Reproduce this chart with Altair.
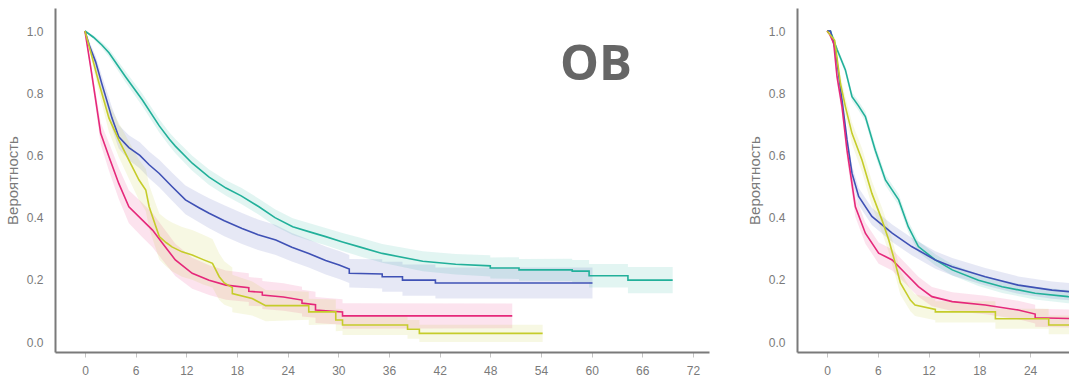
import altair as alt
import pandas as pd

# Kaplan–Meier estimates (months vs. survival probability) for four groups,
# each with a half-width of its confidence band at the same time points.
GROUPS = ["Группа 1", "Группа 2", "Группа 3", "Группа 4"]
COLORS = ["#22b09a", "#3f51b5", "#e5287a", "#c5cc2a"]

# ---- Panel 1: ОВ ----
os_t1 = [0, 1, 2, 2.84, 4.8, 6.8, 8.8, 10.0, 10.7, 12.7, 14.7, 16.7, 18.5, 20.6, 22.5, 24.6,
         26.5, 28.5, 30.5, 32.5, 35.2, 40, 43.9, 48.0, 48.0, 51.4, 51.4, 57.7, 57.7, 59.7,
         59.7, 64.3, 64.3, 69.6]
os_s1 = [1.0, 0.98, 0.955, 0.93, 0.853, 0.778, 0.695, 0.652, 0.63, 0.575, 0.53, 0.495, 0.47,
         0.435, 0.4, 0.371, 0.355, 0.339, 0.322, 0.306, 0.285, 0.26, 0.25, 0.245, 0.238, 0.238,
         0.232, 0.232, 0.228, 0.228, 0.213, 0.213, 0.199, 0.199]
os_h1 = [0, 0.006, 0.01, 0.013, 0.018, 0.02, 0.021, 0.022, 0.023, 0.024, 0.025, 0.025, 0.026,
         0.026, 0.027, 0.027, 0.028, 0.028, 0.029, 0.03, 0.03, 0.032, 0.033, 0.034, 0.034,
         0.035, 0.035, 0.036, 0.036, 0.036, 0.038, 0.038, 0.042, 0.042]

os_t2 = [0, 0.5, 1.27, 2, 2.45, 3.2, 4.0, 5.2, 6.5, 7.6, 8.8, 10.3, 11.9, 13.5, 14.7, 16.5,
         18.6, 20.5, 22.6, 24.5, 26.5, 28.5, 30.1, 31.3, 31.3, 35.2, 35.2, 37.6, 37.6, 41.5,
         41.5, 60.1]
os_s2 = [1.0, 0.955, 0.9, 0.83, 0.789, 0.72, 0.66, 0.625, 0.6, 0.57, 0.542, 0.5, 0.457, 0.432,
         0.414, 0.39, 0.365, 0.345, 0.328, 0.305, 0.285, 0.262, 0.248, 0.235, 0.221, 0.219,
         0.21, 0.21, 0.199, 0.199, 0.19, 0.19]
os_h2 = [0, 0.012, 0.02, 0.026, 0.03, 0.034, 0.038, 0.04, 0.042, 0.043, 0.044, 0.045, 0.046,
         0.047, 0.048, 0.05, 0.05, 0.049, 0.048, 0.046, 0.045, 0.045, 0.045, 0.045, 0.046,
         0.047, 0.048, 0.048, 0.05, 0.05, 0.05, 0.05]

os_t3 = [0, 0.67, 1.27, 1.86, 2.84, 4.0, 5.2, 6.8, 8.0, 9.2, 10.7, 12.7, 14.7, 16.7, 19.4,
         19.4, 21.0, 21.0, 23.5, 25.7, 25.7, 27.3, 27.3, 30.5, 30.5, 50.6]
os_s3 = [1.0, 0.885, 0.778, 0.671, 0.596, 0.51, 0.435, 0.392, 0.36, 0.317, 0.264, 0.221,
         0.199, 0.183, 0.175, 0.163, 0.16, 0.151, 0.145, 0.135, 0.125, 0.12, 0.103, 0.097,
         0.084, 0.084]
os_h3 = [0, 0.015, 0.025, 0.035, 0.045, 0.05, 0.053, 0.055, 0.055, 0.054, 0.052, 0.05, 0.048,
         0.047, 0.046, 0.046, 0.045, 0.045, 0.044, 0.043, 0.043, 0.042, 0.042, 0.041, 0.041,
         0.04]

os_t4 = [0, 0.8, 1.66, 2.84, 4.0, 5.2, 6.4, 7.2, 7.6, 8.4, 8.8, 9.6, 10.3, 11.5, 12.7, 14.0,
         15.1, 15.9, 16.5, 17.45, 17.45, 19.8, 21.4, 26.5, 26.5, 29.7, 29.7, 30.5, 30.5, 38.2,
         38.2, 39.6, 39.6, 54.2]
os_s4 = [1.0, 0.92, 0.832, 0.72, 0.65, 0.585, 0.521, 0.489, 0.435, 0.371, 0.339, 0.32, 0.306,
         0.29, 0.28, 0.265, 0.253, 0.21, 0.19, 0.175, 0.156, 0.14, 0.117, 0.117, 0.097, 0.097,
         0.071, 0.071, 0.055, 0.055, 0.041, 0.041, 0.028, 0.028]
os_h4 = [0, 0.015, 0.03, 0.045, 0.055, 0.06, 0.065, 0.068, 0.07, 0.072, 0.074, 0.076, 0.078,
         0.08, 0.08, 0.08, 0.078, 0.075, 0.07, 0.065, 0.06, 0.055, 0.05, 0.045, 0.042, 0.04,
         0.036, 0.035, 0.032, 0.032, 0.03, 0.03, 0.028, 0.028]

# ---- Panel 2 ----
pf_t1 = [0, 0.4, 1.2, 2.17, 2.95, 3.7, 4.53, 5.7, 6.9, 8.47, 9.6, 10.8, 12.8, 14.8, 17.9, 20.7,
         24.6, 28.5, 29.5]
pf_s1 = [1.0, 1.0, 0.94, 0.875, 0.789, 0.76, 0.725, 0.617, 0.521, 0.457, 0.371, 0.307, 0.264,
         0.232, 0.199, 0.178, 0.157, 0.146, 0.144]
pf_h1 = [0, 0, 0.008, 0.012, 0.014, 0.015, 0.016, 0.017, 0.017, 0.018, 0.018, 0.018, 0.018,
         0.018, 0.019, 0.02, 0.02, 0.021, 0.021]

pf_t2 = [0, 0.4, 0.99, 1.77, 2.36, 2.95, 3.74, 5.3, 7.7, 10.0, 12.8, 14.8, 18.7, 22.6, 26.6, 29.5]
pf_s2 = [1.0, 1.0, 0.939, 0.778, 0.65, 0.543, 0.468, 0.404, 0.35, 0.307, 0.264, 0.242, 0.21,
         0.183, 0.167, 0.16]
pf_h2 = [0, 0, 0.012, 0.018, 0.022, 0.025, 0.027, 0.028, 0.028, 0.028, 0.028, 0.028, 0.028,
         0.028, 0.028, 0.028]

pf_t3 = [0, 0.3, 0.79, 1.18, 1.77, 2.36, 3.35, 4.53, 6.1, 7.7, 9.25, 10.8, 12.4, 14.8, 18.7,
         22.6, 24.6, 24.6, 29.5]
pf_s3 = [1.0, 0.99, 0.961, 0.853, 0.757, 0.617, 0.435, 0.35, 0.286, 0.264, 0.221, 0.178, 0.146,
         0.13, 0.119, 0.103, 0.09, 0.078, 0.075]
pf_h3 = [0, 0.004, 0.012, 0.02, 0.025, 0.03, 0.033, 0.034, 0.034, 0.034, 0.033, 0.032, 0.031,
         0.03, 0.03, 0.03, 0.03, 0.029, 0.029]

pf_t4 = [0, 0.9, 1.58, 2.17, 2.95, 4.13, 5.3, 6.5, 7.3, 8.07, 8.67, 9.85, 10.4, 12.8, 12.8, 19.9,
         19.9, 26.2, 26.2, 29.5]
pf_s4 = [1.0, 0.97, 0.832, 0.757, 0.671, 0.585, 0.478, 0.392, 0.328, 0.253, 0.19, 0.135, 0.119,
         0.105, 0.097, 0.097, 0.075, 0.075, 0.055, 0.055]
pf_h4 = [0, 0.01, 0.025, 0.03, 0.035, 0.038, 0.04, 0.04, 0.04, 0.04, 0.038, 0.036, 0.035, 0.035,
         0.034, 0.034, 0.032, 0.032, 0.03, 0.03]

X_TICKS_1 = list(range(0, 73, 6))
X_TICKS_2 = list(range(0, 25, 6))
Y_TICKS = [0.0, 0.2, 0.4, 0.6, 0.8, 1.0]


def curves(series):
    rows = []
    for group, (t, s, h) in zip(GROUPS, series):
        for ti, si, hi in zip(t, s, h):
            rows.append({"group": group, "t": ti, "s": si,
                         "lo": max(si - hi, 0.0), "hi": min(si + hi, 1.0)})
    return pd.DataFrame(rows)


os_df = curves([(os_t1, os_s1, os_h1), (os_t2, os_s2, os_h2),
                (os_t3, os_s3, os_h3), (os_t4, os_s4, os_h4)])
pf_df = curves([(pf_t1, pf_s1, pf_h1), (pf_t2, pf_s2, pf_h2),
                (pf_t3, pf_s3, pf_h3), (pf_t4, pf_s4, pf_h4)])

AXIS_GREY = "#7a7a7a"
color = alt.Color("group:N", scale=alt.Scale(domain=GROUPS, range=COLORS), legend=None)


def panel(df, x_max, x_ticks, width, label=None):
    x = alt.X("t:Q", scale=alt.Scale(domain=[-3.55, x_max], nice=False, zero=False),
              axis=alt.Axis(values=x_ticks, grid=False, title=None, domainColor=AXIS_GREY,
                            domainWidth=2, tickColor="#c4c4c4", tickSize=5, tickWidth=1,
                            labelColor=AXIS_GREY, labelFont="Liberation Sans",
                            labelFontSize=12, labelPadding=8))
    y_scale = alt.Scale(domain=[-0.032, 1.074], nice=False, zero=False)
    y_axis = alt.Axis(values=Y_TICKS, format=".1f", grid=False, ticks=False,
                      domainColor=AXIS_GREY, domainWidth=2, labelColor=AXIS_GREY,
                      labelFont="Liberation Sans", labelFontSize=12, labelPadding=12,
                      title="Вероятность", titleFont="Liberation Sans", titleFontSize=15,
                      titleFontWeight="normal", titleColor=AXIS_GREY, titlePadding=6)
    base = alt.Chart(df)
    band = base.mark_area(interpolate="linear", opacity=0.13, clip=True).encode(
        x=x, y=alt.Y("lo:Q", scale=y_scale, axis=y_axis), y2="hi:Q", color=color,
        detail="group:N")
    line = base.mark_line(interpolate="linear", strokeWidth=1.6, clip=True).encode(
        x=x, y=alt.Y("s:Q", scale=y_scale, axis=y_axis), color=color, detail="group:N")
    layers = [band, line]
    if label:
        layers.append(
            alt.Chart(pd.DataFrame({"label": [label]})).mark_text(
                font="Open Sans", fontWeight="bold", fontSize=49, color="#666666",
                align="center", baseline="alphabetic").encode(
                x=alt.datum(60.5), y=alt.datum(0.842), text="label:N"))
    return alt.layer(*layers).properties(width=width, height=344)


left = panel(os_df, 73.9, X_TICKS_1, 654, label="ОВ")
right = panel(pf_df, 28.6, X_TICKS_2, 272)

chart = alt.hconcat(left, right, spacing=38).properties(
    padding={"left": 5, "top": 8, "right": 0, "bottom": 0},
    background="white",
).configure_view(stroke=None)

chart.save("out.html", embed_options={"renderer": "svg", "actions": False})
